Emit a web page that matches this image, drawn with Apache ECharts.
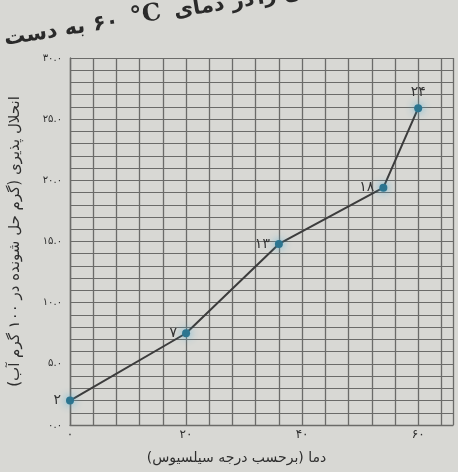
<!DOCTYPE html>
<html>
<head>
<meta charset="utf-8">
<script src="https://cdn.jsdelivr.net/npm/echarts@6/dist/echarts.min.js"></script>
<style>
  html, body { margin: 0; padding: 0; background: #d8d8d4; }
  #chart { width: 458px; height: 472px; }
</style>
</head>
<body>
<div id="chart"></div>
<script>
// data (marks as drawn on the grid, labels as printed)
const temps = [0, 20, 36, 54, 60];
const solubility = [2, 7.5, 14.8, 19.4, 25.9];
const pointLabels = [2, 7, 13, 18, 24];
const xLabelStep = 20;
const yLabelStep = 5;
const xAxisName = 'دما (برحسب درجه سیلسیوس)';
const yAxisName = 'انحلال پذیری (گرم حل شونده در ۱۰۰ گرم آب)';

// label placement per point (style only)
const labelPlace = ['left', 'left', 'left', 'left', 'top'];

function toFa(s) {
  return String(s).replace(/[0-9]/g, d => '۰۱۲۳۴۵۶۷۸۹'[d]);
}

const FONT = 'DejaVu Sans';
const gridColor = '#6b6b69';
const titleFont = 'bold 21px "DejaVu Sans"';

let option = {
  backgroundColor: '#d8d8d4',
  textStyle: { fontFamily: FONT },
  grid: {
    left: 70,
    right: 5,
    top: 58,
    bottom: 47,
    outerBoundsMode: 'none'
  },
  xAxis: {
    type: 'value',
    min: 0,
    max: 66,
    interval: 4,
    name: xAxisName,
    nameLocation: 'middle',
    nameGap: 26,
    nameTextStyle: { color: '#2e2e2e', fontSize: 14, fontFamily: FONT, padding: [0, 50, 0, 0] },
    axisLine: { show: true, lineStyle: { color: gridColor, width: 1.4 } },
    axisTick: { show: false },
    splitLine: { show: true, lineStyle: { color: gridColor, width: 1.3 } },
    axisLabel: {
      color: '#2e2e2e',
      fontSize: 12,
      margin: 4,
      showMaxLabel: false,
      formatter: v => (v % xLabelStep === 0 ? toFa(v) : '')
    }
  },
  yAxis: {
    type: 'value',
    min: 0,
    max: 30,
    interval: 1,
    name: yAxisName,
    nameLocation: 'middle',
    nameRotate: 90,
    nameGap: 47,
    nameTextStyle: { color: '#2e2e2e', fontSize: 15, fontFamily: FONT },
    axisLine: { show: true, lineStyle: { color: gridColor, width: 1.4 } },
    axisTick: { show: false },
    splitLine: { show: true, lineStyle: { color: gridColor, width: 1 } },
    axisLabel: {
      color: '#2e2e2e',
      fontSize: 10,
      margin: 8,
      formatter: v => (v % yLabelStep === 0 ? toFa(v.toFixed(1)) : '')
    }
  },
  series: [
    {
      type: 'line',
      data: temps.map((t, i) => ({
        value: [t, solubility[i]],
        name: toFa(pointLabels[i]),
        label: { position: labelPlace[i] }
      })),
      symbol: 'circle',
      symbolSize: 8,
      lineStyle: { color: '#3c3c3c', width: 2 },
      itemStyle: {
        color: '#2c7590',
        shadowBlur: 8,
        shadowColor: 'rgba(70,170,210,0.9)'
      },
      label: {
        show: true,
        color: '#333',
        fontSize: 14,
        fontFamily: FONT,
        distance: 5,
        formatter: p => p.name
      },
      z: 5
    }
  ],
  graphic: [
    {
      type: 'group',
      x: 6,
      y: 50,
      rotation: 0.16,
      children: [
        { type: 'text', x: 0, y: 0, style: { text: 'به دست', font: titleFont, fill: '#2a2a2a', verticalAlign: 'bottom' } },
        { type: 'text', x: 90, y: 0, style: { text: '۶۰', font: titleFont, fill: '#2a2a2a', verticalAlign: 'bottom' } },
        { type: 'text', x: 128, y: 0, style: { text: '°C', font: 'bold 24px "DejaVu Serif"', fill: '#2a2a2a', verticalAlign: 'bottom' } },
        { type: 'text', x: 172, y: 0, style: { text: 'در دمای', font: titleFont, fill: '#2a2a2a', verticalAlign: 'bottom' } },
        { type: 'text', x: 256, y: 0, style: { text: 'ن را', font: titleFont, fill: '#2a2a2a', verticalAlign: 'bottom' } }
      ]
    }
  ]
};

let myChart = echarts.init(document.getElementById('chart'));
myChart.setOption(option);
</script>
</body>
</html>
